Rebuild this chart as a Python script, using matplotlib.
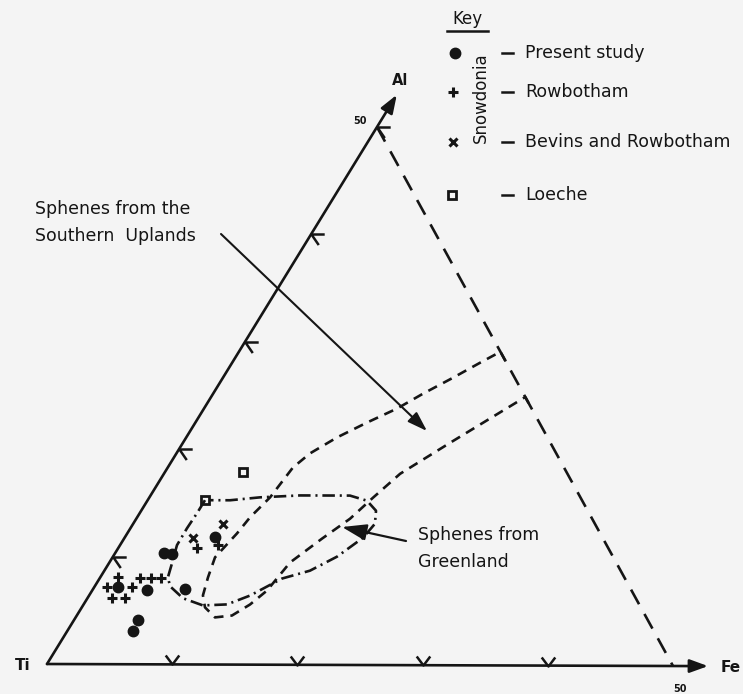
import matplotlib.pyplot as plt
from matplotlib.path import Path
from matplotlib.transforms import Affine2D

plt.rcParams['lines.scale_dashes'] = False
plt.rcParams['font.family'] = ['DejaVu Sans']

INK = '#151515'
PAPER = '#f4f4f4'

# sphene analyses as (Fe, Al) in the Ti-Al-Fe triangle
present_fe = [1.9, 4.35, 3.9, 4.6, 7.35, 5.1, 5.25, 7.2]
present_al = [7.15, 6.9, 10.35, 10.25, 7.0, 4.1, 3.05, 11.85]

rowbotham_fe = [1.4, 1.0, 3.0, 1.95, 3.0, 3.2, 4.1, 4.9, 6.3, 7.8]
rowbotham_al = [8.1, 7.15, 7.15, 6.15, 6.15, 8.0, 8.0, 8.0, 10.8, 11.1]

bevins_fe = [5.5, 7.2]
bevins_al = [11.75, 13.05]

loeche_fe = [4.55, 6.25]
loeche_al = [15.25, 17.9]

# outline of the Southern Uplands field (open at the Al-Fe join)
uplands_fe = [21.75, 20.85, 19.76, 18.34, 16.73, 15.39, 13.68, 12.02, 10.65, 9.98,
              9.62, 9.0, 8.75, 8.17, 8.59, 9.07, 9.82, 11.11, 12.37, 13.27, 13.94,
              14.4, 15.78, 17.04, 17.84, 18.83, 21.29, 25.05, 25.9]
uplands_al = [28.25, 29.15, 28.12, 26.72, 25.23, 23.84, 22.53, 21.14, 19.65, 18.34,
              15.55, 13.69, 12.2, 9.96, 8.1, 6.42, 5.31, 4.38, 4.56, 5.59, 6.89,
              9.5, 11.73, 13.59, 15.55, 17.78, 20.67, 24.95, 24.1]

# outline of the Greenland field
greenland_fe = [4.57, 4.57, 4.51, 4.54, 5.03, 5.39, 6.0, 7.62, 9.56, 11.43, 12.83,
                14.55, 16.39, 17.86, 19.01, 19.27, 18.72, 17.51, 15.9, 11.91, 8.82,
                6.57, 4.97]
greenland_al = [15.27, 14.06, 12.66, 11.08, 9.4, 8.1, 7.26, 6.15, 5.49, 5.59, 6.42,
                8.01, 8.75, 10.06, 11.83, 13.13, 14.34, 15.27, 15.74, 15.74, 15.55,
                15.27, 15.27]

fe_ticks = [10, 20, 30, 40]
al_ticks = [10, 20, 30, 40, 50]

key_labels = ['Present study', 'Rowbotham', 'Bevins and Rowbotham', 'Loeche']

fig = plt.figure(figsize=(7.43, 6.94), dpi=100, facecolor=PAPER)
ax = fig.add_axes([0, 0, 1, 1])
ax.set_xlim(0, 743)
ax.set_ylim(694, 0)
ax.axis('off')
ax.set_facecolor(PAPER)

# triangle corners on the page: Ti origin, Fe=50 and Al=50
ti_xy = (47, 664)
fe50_xy = (673, 666)
al50_xy = (377, 127)
tern = Affine2D.from_values(
    (fe50_xy[0] - ti_xy[0]) / 50, (fe50_xy[1] - ti_xy[1]) / 50,
    (al50_xy[0] - ti_xy[0]) / 50, (al50_xy[1] - ti_xy[1]) / 50,
    ti_xy[0], ti_xy[1]) + ax.transData

# axes with arrows
arrow = dict(arrowstyle='-|>,head_length=1.1,head_width=0.4', lw=1.9,
             color=INK, shrinkA=0, shrinkB=0)
ax.annotate('', xy=(0, 53), xytext=(0, 0), xycoords=tern, textcoords=tern,
            arrowprops=arrow)
ax.annotate('', xy=(52.8, 0), xytext=(0, 0), xycoords=tern, textcoords=tern,
            arrowprops=arrow)

# Al + Fe = 50 join
ax.plot([0, 50], [50, 0], transform=tern, color=INK, lw=1.9,
        ls=(0, (12, 8)))

# tick marks
v_mark = Path([(-0.75, 1), (0, 0), (0.75, 1)],
              [Path.MOVETO, Path.LINETO, Path.LINETO])
lt_mark = Path([(1, 0), (0, 0), (0.55, -0.8)],
               [Path.MOVETO, Path.LINETO, Path.LINETO])
ax.plot(fe_ticks, [0] * len(fe_ticks), transform=tern, ls='none',
        marker=v_mark, ms=13, mfc='none', mec=INK, mew=1.8)
ax.plot([0] * len(al_ticks), al_ticks, transform=tern, ls='none',
        marker=lt_mark, ms=19, mfc='none', mec=INK, mew=1.8)

# fields
ax.plot(uplands_fe, uplands_al, transform=tern, color=INK, lw=1.9,
        ls=(0, (7, 5)))
ax.plot(greenland_fe, greenland_al, transform=tern, color=INK, lw=1.9,
        ls=(0, (9, 3.5, 1.5, 3.5)))

# analyses
ax.plot(present_fe, present_al, 'o', transform=tern, ms=7.5, color=INK)
ax.plot(rowbotham_fe, rowbotham_al, '+', transform=tern, ms=7, mew=2.2,
        color=INK)
ax.plot(bevins_fe, bevins_al, 'x', transform=tern, ms=6, mew=2.2, color=INK)
ax.plot(loeche_fe, loeche_al, 's', transform=tern, ms=6, mew=2, mfc='none',
        mec=INK)

# corner labels
ax.text(15, 665, 'Ti', fontsize=11, fontweight='bold', color=INK,
        ha='left', va='center')
ax.text(392, 80, 'Al', fontsize=10.5, fontweight='bold', color=INK,
        ha='left', va='center')
ax.text(721, 668, 'Fe', fontsize=11, fontweight='bold', color=INK,
        ha='left', va='center')
ax.text(360, 121, '50', fontsize=7, fontweight='bold', color=INK,
        ha='center', va='center')
ax.text(680, 689, '50', fontsize=7, fontweight='bold', color=INK,
        ha='center', va='center')

# field labels
ax.text(35, 209, 'Sphenes from the', fontsize=12.5, color=INK, va='center')
ax.text(35, 236, 'Southern  Uplands', fontsize=12.5, color=INK, va='center')
ax.annotate('', xy=(427, 431), xytext=(221, 234), xycoords='data',
            arrowprops=dict(arrowstyle='-|>,head_length=1.2,head_width=0.4',
                            lw=1.5, color=INK, shrinkA=0, shrinkB=0))
ax.text(418, 535, 'Sphenes from', fontsize=12.5, color=INK, va='center')
ax.text(418, 562, 'Greenland', fontsize=12.5, color=INK, va='center')
ax.annotate('', xy=(342, 527), xytext=(406, 541), xycoords='data',
            arrowprops=dict(arrowstyle='-|>,head_length=1.5,head_width=0.5',
                            lw=1.6, color=INK, shrinkA=0, shrinkB=0))

# key
ax.text(467, 19, 'Key', fontsize=12, color=INK, ha='center', va='center')
ax.plot([447, 488], [31, 31], color=INK, lw=1.8)
key_y = [53, 92, 142, 195]
ax.plot(455, key_y[0], 'o', ms=7.5, color=INK)
ax.plot(453, key_y[1], '+', ms=7, mew=2.2, color=INK)
ax.plot(453, key_y[2], 'x', ms=6, mew=2.2, color=INK)
ax.plot(452, key_y[3], 's', ms=6, mew=2, mfc='none', mec=INK)
for y, label in zip(key_y, key_labels):
    ax.plot([502, 513], [y, y], color=INK, lw=1.8)
    ax.text(525, y, label, fontsize=12.5, color=INK, va='center')
ax.text(481, 98, 'Snowdonia', fontsize=12, color=INK, rotation=90,
        ha='center', va='center')

fig.savefig('out.png', dpi=100, facecolor=PAPER)
